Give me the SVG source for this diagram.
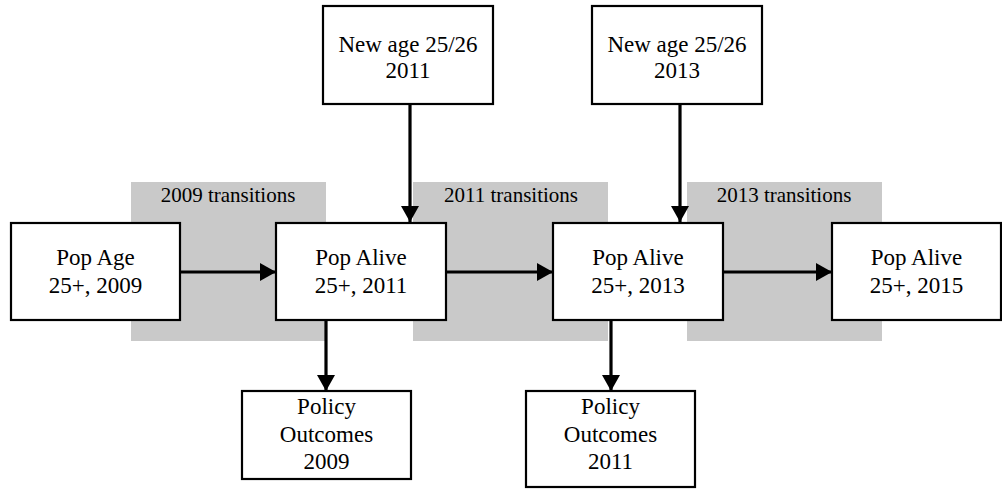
<svg xmlns="http://www.w3.org/2000/svg" width="1002" height="492" viewBox="0 0 1002 492">
<style>
.bg{fill:#c9c9c9;stroke:none}
.box{fill:#fff;stroke:#000;stroke-width:2.2}
.t{font-family:"Liberation Serif","Times New Roman",serif;font-size:23px;fill:#000;text-anchor:middle}
.lbl{font-family:"Liberation Serif","Times New Roman",serif;font-size:21px;fill:#000;text-anchor:middle}
.c{stroke:#000;stroke-width:3.2;fill:none;marker-end:url(#ah)}
</style>
<defs>
<marker id="ah" markerUnits="userSpaceOnUse" markerWidth="16" markerHeight="18" refX="16" refY="9" orient="auto" viewBox="0 0 16 18">
<path d="M0,0 L16,9 L0,18 z" fill="#000"/>
</marker>
</defs>
<g id="transitions">
<rect class="bg" x="131" y="182" width="195" height="159"/>
<rect class="bg" x="413" y="182" width="195" height="159"/>
<rect class="bg" x="687" y="182" width="195" height="159"/>
<text class="lbl" x="228" y="202">2009 transitions</text>
<text class="lbl" x="511" y="202">2011 transitions</text>
<text class="lbl" x="784" y="202">2013 transitions</text>
</g>
<g id="connectors">
<line class="c" x1="180" y1="272" x2="276" y2="272"/>
<line class="c" x1="446" y1="272" x2="553" y2="272"/>
<line class="c" x1="723" y1="272" x2="832" y2="272"/>
<line class="c" x1="410" y1="104" x2="410" y2="222"/>
<line class="c" x1="680" y1="104" x2="680" y2="222"/>
<line class="c" x1="326" y1="320" x2="326" y2="391"/>
<line class="c" x1="611" y1="320" x2="611" y2="391"/>
</g>
<g id="popage2009">
<rect class="box" x="11" y="223" width="169" height="97"/>
<text class="t" x="95.5" y="265">Pop Age</text>
<text class="t" x="95.5" y="293">25+, 2009</text>
</g>
<g id="popalive2011">
<rect class="box" x="276" y="223" width="170" height="97"/>
<text class="t" x="361" y="265">Pop Alive</text>
<text class="t" x="361" y="293">25+, 2011</text>
</g>
<g id="popalive2013">
<rect class="box" x="553" y="223" width="170" height="97"/>
<text class="t" x="638" y="265">Pop Alive</text>
<text class="t" x="638" y="293">25+, 2013</text>
</g>
<g id="popalive2015">
<rect class="box" x="832" y="223" width="169" height="97"/>
<text class="t" x="916.5" y="265">Pop Alive</text>
<text class="t" x="916.5" y="293">25+, 2015</text>
</g>
<g id="newage2011">
<rect class="box" x="323" y="6" width="170" height="98"/>
<text class="t" x="408" y="52">New age 25/26</text>
<text class="t" x="408" y="78">2011</text>
</g>
<g id="newage2013">
<rect class="box" x="592" y="6" width="170" height="98"/>
<text class="t" x="677" y="52">New age 25/26</text>
<text class="t" x="677" y="78">2013</text>
</g>
<g id="policy2009">
<rect class="box" x="242" y="391" width="169" height="88"/>
<text class="t" x="326.5" y="414">Policy</text>
<text class="t" x="326.5" y="442">Outcomes</text>
<text class="t" x="326.5" y="469">2009</text>
</g>
<g id="policy2011">
<rect class="box" x="526" y="391" width="169" height="96"/>
<text class="t" x="610.5" y="414">Policy</text>
<text class="t" x="610.5" y="442">Outcomes</text>
<text class="t" x="610.5" y="469">2011</text>
</g>
</svg>
